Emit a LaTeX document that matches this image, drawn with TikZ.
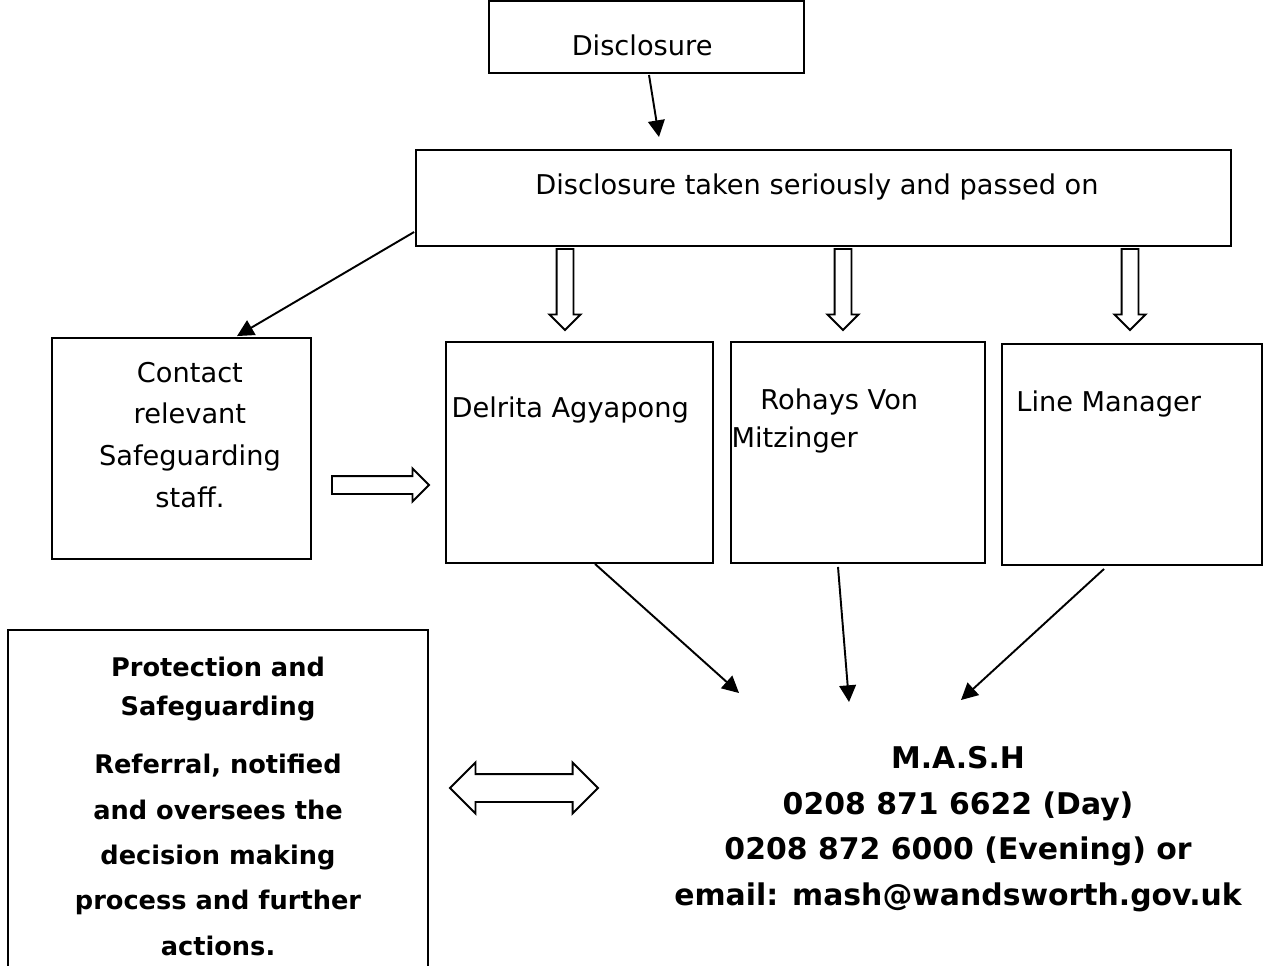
\documentclass[tikz,border=0pt]{standalone}
\usepackage{fontspec}
\setmainfont{DejaVu Sans}
\usetikzlibrary{arrows.meta, shapes.arrows}

\begin{document}
\begin{tikzpicture}[x=0.02cm, y=-0.02cm, >={Triangle[length=9.5pt, width=9.5pt]}, line width=1.1pt,
  box/.style={draw, inner sep=0pt},
  txt/.style={font=\fontsize{15.5}{23.8}\selectfont, align=center},
  boldtxt/.style={font=\fontsize{14.6}{25.8}\selectfont\bfseries, align=center},
  downarrow/.style={single arrow, draw, rotate=-90, anchor=tail, inner sep=0.15cm,
    single arrow head extend=0.14cm, minimum height=1.62cm}]

\useasboundingbox (0,0) rectangle (1263,965);

% define the boxes
  \node[box, minimum width=6.3cm, minimum height=1.44cm,
    label={[txt, xshift=-2.5pt, yshift=-4.5pt]center:Disclosure}] (disc) at (646.5,37) {};
  \node[box, minimum width=16.3cm, minimum height=1.92cm,
    label={[txt, xshift=-3.7pt, yshift=6pt]center:Disclosure taken seriously and passed on}] (taken) at (823.5,198) {};
  \node[box, minimum width=5.18cm, minimum height=4.42cm,
    label={[txt, xshift=4.8pt, yshift=7.7pt]center:Contact\\relevant\\Safeguarding\\staff.}] (contact) at (181.5,448.5) {};
  \node[box, minimum width=5.34cm, minimum height=4.42cm,
    label={[txt, anchor=west, xshift=-0.2pt, yshift=24pt]west:Delrita Agyapong}] (delrita) at (579.5,452.5) {};
  \node[box, minimum width=5.08cm, minimum height=4.42cm,
    label={[txt, font=\fontsize{15.5}{21.5}\selectfont, align=left, anchor=west, xshift=-3pt, yshift=18pt]west:\hspace*{16.4pt}Rohays Von\\Mitzinger}] (rohays) at (858,452.5) {};
  \node[box, minimum width=5.2cm, minimum height=4.42cm,
    label={[txt, anchor=west, xshift=4.8pt, yshift=29pt]west:Line Manager}] (lineman) at (1132,454.5) {};
  \node[box, minimum width=8.4cm, minimum height=7.4cm,
    label={[boldtxt, yshift=5.1pt]center:Protection and\\[-3.7pt]Safeguarding\\[7.6pt]Referral, notified\\and oversees the\\decision making\\process and further\\actions.}] (protect) at (218,815) {};
  \node[font=\fontsize{17}{26}\selectfont\bfseries, align=center] (mash) at (958,829)
    {M.A.S.H\\0208 871 6622 (Day)\\0208 872 6000 (Evening) or\\email: mash@wandsworth.gov.uk};

% hollow arrows
  \node[downarrow] (hd1) at (565,248) {};
  \node[downarrow] (hd2) at (843,248) {};
  \node[downarrow] (hd3) at (1130,248) {};
  \node[single arrow, draw, anchor=tail, inner sep=0.16cm, single arrow head extend=0.15cm,
    minimum height=1.94cm] (hr) at (331,485) {};
  \node[double arrow, draw, inner sep=0.26cm, double arrow head extend=0.23cm,
    minimum height=2.96cm] (hlr) at (524,788) {};

% define the links
  \path[->] ([shift={(2.5,1)}]disc.south) edge ([shift={(-164.5,-12)}]taken.north)
            ([shift={(-1,34)}]taken.west) edge ([shift={(55.5,-1)}]contact.north)
            ([shift={(15.5,0)}]delrita.south) edge ([shift={(-219,-136)}]mash.center)
            ([shift={(-20,3)}]rohays.south) edge ([shift={(-109,-127)}]mash.center)
            ([shift={(-28,3)}]lineman.south) edge ([shift={(3,-129)}]mash.center);

\end{tikzpicture}
\end{document}
